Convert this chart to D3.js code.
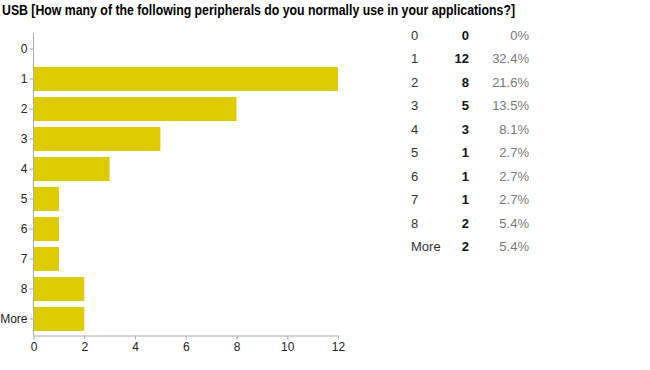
<!DOCTYPE html>
<html>
<head>
<meta charset="utf-8">
<script src="https://cdn.jsdelivr.net/npm/d3@7"></script>
<style>
  body { margin: 0; background: #fff; }
  svg { display: block; }
</style>
</head>
<body>
<script>
// Data
const categories = ['0', '1', '2', '3', '4', '5', '6', '7', '8', 'More'];
const counts = [0, 12, 8, 5, 3, 1, 1, 1, 2, 2];
const percents = ['0%', '32.4%', '21.6%', '13.5%', '8.1%', '2.7%', '2.7%', '2.7%', '5.4%', '5.4%'];
const xTicks = [0, 2, 4, 6, 8, 10, 12];
const title = 'USB [How many of the following peripherals do you normally use in your applications?]';

const width = 650;
const height = 370;
const font = '"Liberation Sans", Arial, sans-serif';

const svg = d3.select('body')
.append('svg')
.attr('width', width)
.attr('height', height);

// Title
svg.append('text')
.attr('x', 2)
.attr('y', 15)
.style('font-family', font)
.attr('font-size', '15px')
.attr('font-weight', 'bold')
.attr('fill', '#000')
.attr('textLength', 513)
.attr('lengthAdjust', 'spacingAndGlyphs')
.text(title);

// Scales
const xScale = d3.scaleLinear()
.domain([0, 12])
.range([33.5, 338]);

const yScale = d3.scaleBand()
.domain(categories)
.range([34, 334])
.paddingInner(0.2)
.paddingOuter(0.1);

// Bars
svg.selectAll('rect.bar')
.data(counts)
.enter()
.append('rect')
.attr('class', 'bar')
.attr('x', xScale(0))
.attr('y', (d, i) => yScale(categories[i]))
.attr('width', d => xScale(d) - xScale(0))
.attr('height', yScale.bandwidth())
.attr('fill', '#ddcc00');

// Axes
const xAxis = svg.append('g')
.attr('transform', 'translate(0,335.5)')
.call(d3.axisBottom(xScale).tickValues(xTicks).tickSize(4).tickSizeOuter(0).tickPadding(3));

const yAxis = svg.append('g')
.attr('transform', 'translate(33.5,0)')
.call(d3.axisLeft(yScale).tickSize(4).tickSizeOuter(0).tickPadding(2));

yAxis.select('.domain').attr('d', 'M0,33V335.5');

[xAxis, yAxis].forEach(g => {
    g.select('.domain').attr('stroke', '#aaa');
    g.selectAll('.tick line').attr('stroke', '#aaa');
    g.selectAll('text')
    .style('font-family', font)
    .attr('font-size', '12px')
    .attr('fill', '#222');
});

// Table on the right
const rowY = d3.scalePoint()
.domain(categories)
.range([39.5, 251]);

const table = svg.append('g')
.style('font-family', font)
.attr('font-size', '13px');

table.selectAll('text.cat')
.data(categories)
.enter()
.append('text')
.attr('class', 'cat')
.attr('x', 411)
.attr('y', d => rowY(d))
.attr('fill', '#333')
.text(d => d);

table.selectAll('text.count')
.data(counts)
.enter()
.append('text')
.attr('class', 'count')
.attr('x', 469)
.attr('y', (d, i) => rowY(categories[i]))
.attr('text-anchor', 'end')
.attr('font-weight', 'bold')
.attr('fill', '#111')
.text(d => d);

table.selectAll('text.pct')
.data(percents)
.enter()
.append('text')
.attr('class', 'pct')
.attr('x', 529)
.attr('y', (d, i) => rowY(categories[i]))
.attr('text-anchor', 'end')
.attr('fill', '#777')
.text(d => d);
</script>
</body>
</html>
